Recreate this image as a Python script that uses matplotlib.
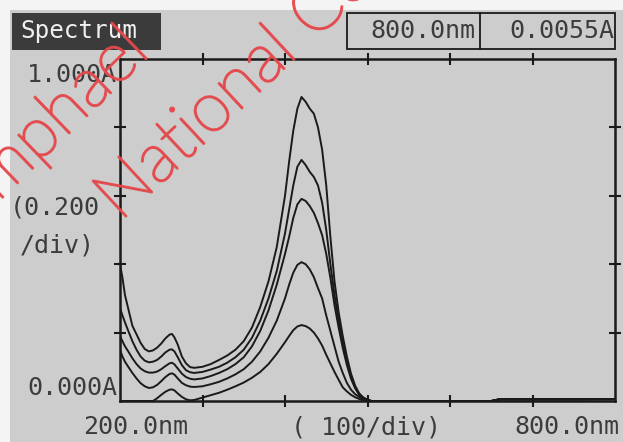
"""Spectrophotometer screen: 5 absorbance scans, 200-800 nm"""
import matplotlib
matplotlib.use('Agg')
import matplotlib.pyplot as plt
import matplotlib.patches as mpatches
import matplotlib.patheffects as pe

W, H = 623, 442

# wavelength grid (nm) and absorbance (A)
wl = [200, 203, 206, 210, 215, 220, 225, 230, 235, 240, 245, 250, 255, 260, 263, 266,
      270, 275, 280, 285, 290, 300, 310, 320, 330, 340, 350, 360, 370, 380, 390, 400,
      405, 410, 415, 420, 425, 430, 435, 440, 445, 450, 455, 460, 465, 470, 475, 480,
      485, 490, 495, 500, 505, 520, 600, 650, 660, 700, 750, 800]

scan1 = [0.40, 0.36, 0.31, 0.27, 0.22, 0.195, 0.17, 0.152, 0.145, 0.148, 0.156, 0.168, 0.183, 0.194, 0.196, 0.186,
         0.165, 0.13, 0.11, 0.099, 0.097, 0.10, 0.108, 0.12, 0.133, 0.15, 0.175, 0.215, 0.275, 0.35, 0.45, 0.60,
         0.70, 0.79, 0.855, 0.889, 0.875, 0.855, 0.84, 0.80, 0.735, 0.63, 0.48, 0.35, 0.26, 0.19, 0.13, 0.08,
         0.045, 0.022, 0.01, 0.004, 0.0, 0.0, 0.0, 0.0, 0.005, 0.005, 0.005, 0.0055]
scan2 = [0.272, 0.25, 0.23, 0.205, 0.175, 0.15, 0.13, 0.118, 0.113, 0.115, 0.12, 0.13, 0.142, 0.15, 0.151, 0.145,
         0.128, 0.105, 0.09, 0.084, 0.082, 0.085, 0.092, 0.10, 0.112, 0.128, 0.15, 0.185, 0.235, 0.30, 0.38, 0.49,
         0.56, 0.63, 0.685, 0.705, 0.69, 0.67, 0.655, 0.63, 0.58, 0.50, 0.40, 0.31, 0.235, 0.17, 0.115, 0.072,
         0.04, 0.02, 0.009, 0.003, 0.0, 0.0, 0.0, 0.0, 0.005, 0.005, 0.005, 0.0055]
scan3 = [0.19, 0.175, 0.16, 0.145, 0.125, 0.108, 0.095, 0.087, 0.083, 0.083, 0.086, 0.093, 0.102, 0.11, 0.112, 0.107,
         0.095, 0.08, 0.07, 0.065, 0.063, 0.066, 0.073, 0.082, 0.093, 0.108, 0.128, 0.16, 0.205, 0.265, 0.34, 0.43,
         0.48, 0.535, 0.575, 0.591, 0.585, 0.57, 0.55, 0.52, 0.485, 0.43, 0.36, 0.28, 0.215, 0.155, 0.105, 0.065,
         0.037, 0.018, 0.008, 0.002, 0.0, 0.0, 0.0, 0.0, 0.005, 0.005, 0.005, 0.0055]
scan4 = [0.15, 0.13, 0.115, 0.10, 0.082, 0.066, 0.052, 0.043, 0.038, 0.04, 0.047, 0.058, 0.07, 0.079, 0.081, 0.077,
         0.066, 0.053, 0.046, 0.042, 0.041, 0.043, 0.049, 0.056, 0.066, 0.078, 0.093, 0.115, 0.145, 0.185, 0.235, 0.30,
         0.34, 0.375, 0.398, 0.406, 0.40, 0.385, 0.362, 0.33, 0.30, 0.25, 0.205, 0.16, 0.115, 0.082, 0.053, 0.033,
         0.02, 0.012, 0.005, 0.001, 0.0, 0.0, 0.0, 0.0, 0.005, 0.005, 0.005, 0.0055]
scan5 = [0.0, 0.0, 0.0, 0.0, 0.0, 0.0, 0.0, 0.0, 0.0, 0.0, 0.008, 0.018, 0.027, 0.033, 0.034, 0.031,
         0.022, 0.012, 0.005, 0.002, 0.003, 0.01, 0.017, 0.024, 0.033, 0.043, 0.054, 0.068, 0.085, 0.108, 0.138, 0.172,
         0.19, 0.207, 0.218, 0.222, 0.219, 0.212, 0.2, 0.183, 0.162, 0.135, 0.11, 0.085, 0.062, 0.04, 0.028, 0.018,
         0.011, 0.006, 0.002, 0.0, 0.0, 0.0, 0.0, 0.0, 0.005, 0.005, 0.005, 0.0055]
scans = [scan1, scan2, scan3, scan4, scan5]

x_ticks = [300, 400, 500, 600, 700]
y_ticks = [0.2, 0.4, 0.6, 0.8]

SCREEN = '#cdcdcd'
INK = '#1a1a1a'
TXT = '#3c3c3c'
MONO = 'DejaVu Sans Mono'
RED = '#e5484b'


def fx(px):
    return px / W


def fy(py):
    return 1 - py / H


fig = plt.figure(figsize=(W / 100, H / 100), dpi=100)
fig.patch.set_facecolor('#f4f4f4')

# grey LCD screen area (photo has a white margin top/left)
fig.add_artist(mpatches.Rectangle((fx(10), 0), 1 - fx(10), fy(10), transform=fig.transFigure,
                                  facecolor=SCREEN, edgecolor='none', zorder=0))

ax = fig.add_axes([fx(120), fy(401), fx(615) - fx(120), fy(59) - fy(401)])
ax.set_facecolor(SCREEN)
for s in scans:
    ax.plot(wl, s, color=INK, lw=1.4)
ax.set_xlim(200, 800)
ax.set_ylim(0, 1.0)
ax.set_xticks(x_ticks)
ax.set_yticks(y_ticks)
ax.tick_params(direction='inout', length=8, width=1.5, color=INK,
               top=True, right=True, labelbottom=False, labelleft=False)
for sp in ax.spines.values():
    sp.set_color(INK)
    sp.set_linewidth(1.8)

# header: "Spectrum" tab and readout box
fig.add_artist(mpatches.Rectangle((fx(12), fy(50)), fx(161) - fx(12), fy(13) - fy(50),
                                  transform=fig.transFigure, facecolor='#3b3b3b', edgecolor='none'))
fig.text(fx(20), fy(31), 'Spectrum', color='#f0f0f0', fontsize=17.5, family=MONO, va='center', ha='left')

fig.add_artist(mpatches.Rectangle((fx(347), fy(49)), fx(615) - fx(347), fy(13) - fy(49),
                                  transform=fig.transFigure, facecolor='none', edgecolor=INK, lw=1.3))
fig.add_artist(plt.Line2D([fx(480), fx(480)], [fy(49), fy(13)], transform=fig.transFigure,
                          color=INK, lw=1.3))
fig.text(fx(475), fy(31), '800.0nm', color=TXT, fontsize=18, family=MONO, va='center', ha='right')
fig.text(fx(614), fy(31), '0.0055A', color=TXT, fontsize=18, family=MONO, va='center', ha='right')

# axis labels as drawn by the instrument
fig.text(fx(117), fy(75), '1.000A', color=TXT, fontsize=18, family=MONO, va='center', ha='right')
fig.text(fx(10), fy(207), '(0.200', color=TXT, fontsize=18, family=MONO, va='center', ha='left')
fig.text(fx(20), fy(245), '/div)', color=TXT, fontsize=18, family=MONO, va='center', ha='left')
fig.text(fx(117), fy(388), '0.000A', color=TXT, fontsize=18, family=MONO, va='center', ha='right')
fig.text(fx(83), fy(427), '200.0nm', color=TXT, fontsize=18, family=MONO, va='center', ha='left')
fig.text(fx(291), fy(427), '( 100/div)', color=TXT, fontsize=18, family=MONO, va='center', ha='left')
fig.text(fx(619), fy(427), '800.0nm', color=TXT, fontsize=18, family=MONO, va='center', ha='right')

# thin red watermark across the photo (cut by the photo edges, as in the original)
wm = dict(color=RED, alpha=0.9, fontsize=50, family='Lato', fontweight='light',
          rotation_mode='anchor', ha='left', va='baseline', zorder=5,
          path_effects=[pe.withStroke(linewidth=1.6, foreground=RED)])
fig.text(fx(-2), fy(202), 'mphael', rotation=44, **wm)
fig.text(fx(120), fy(222), 'National Co', rotation=43, **wm)

fig.savefig('out.png', dpi=100, facecolor=fig.get_facecolor())
